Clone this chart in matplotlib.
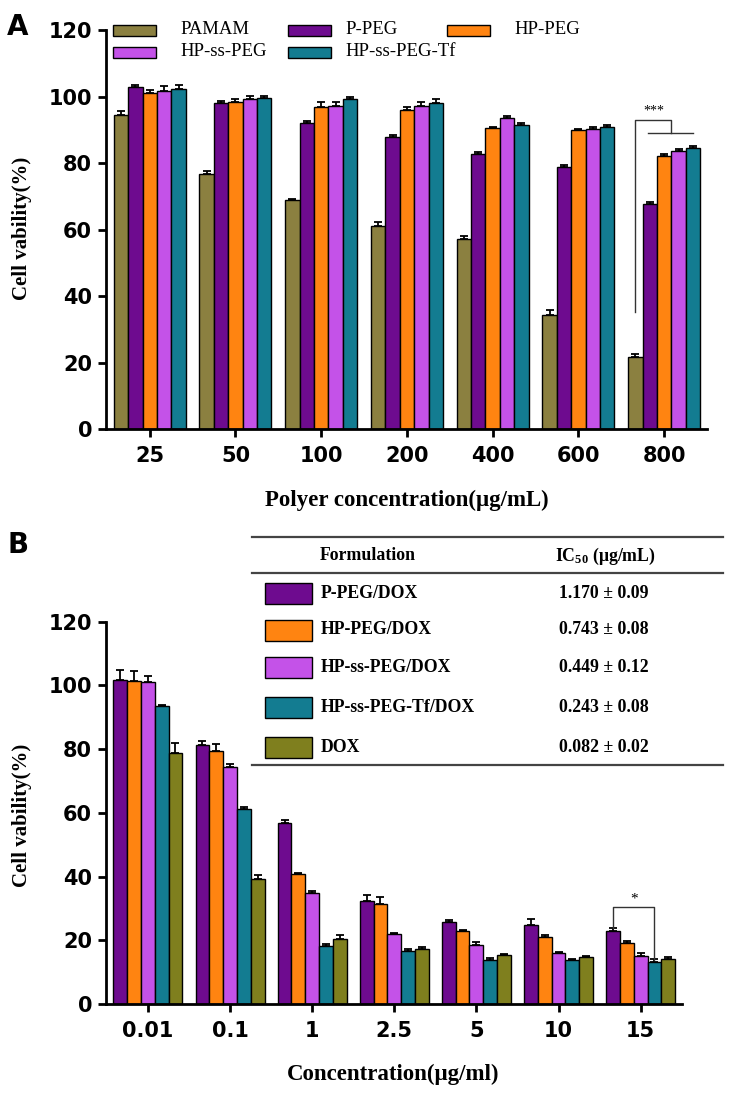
import numpy as np
import matplotlib
matplotlib.use('Agg')
from matplotlib import pyplot as plt
from matplotlib.patches import Rectangle
from matplotlib.lines import Line2D

# ---- A: 聚合物浓度 vs 细胞存活率
concA = ['25', '50', '100', '200', '400', '600', '800']
namesA = ['PAMAM', 'P-PEG', 'HP-PEG', 'HP-ss-PEG', 'HP-ss-PEG-Tf']
pamam = [94.4, 76.7, 68.9, 61.1, 57.0, 34.3, 21.7]
p_peg = [103.0, 98.1, 92.1, 87.9, 82.7, 78.9, 67.6]
hp_peg = [101.1, 98.3, 96.9, 95.9, 90.4, 89.9, 82.2]
hp_ss_peg = [101.7, 99.3, 97.1, 97.1, 93.4, 90.1, 83.7]
hp_ss_peg_tf = [102.3, 99.4, 99.2, 97.9, 91.4, 90.9, 84.4]
err_pamam = [1.2, 0.8, 0.3, 1.3, 1.0, 1.5, 0.8]
err_p_peg = [0.4, 0.5, 0.5, 0.5, 0.5, 0.6, 0.7]
err_hp_peg = [1.0, 1.0, 1.5, 0.8, 0.3, 0.4, 0.4]
err_hp_ss_peg = [1.5, 1.0, 1.3, 1.2, 0.6, 0.8, 0.6]
err_hp_ss_peg_tf = [1.3, 0.9, 0.8, 1.2, 0.7, 0.6, 0.6]

# ---- B: DOX 浓度 vs 细胞存活率
concB = ['0.01', '0.1', '1', '2.5', '5', '10', '15']
namesB = ['P-PEG/DOX', 'HP-PEG/DOX', 'HP-ss-PEG/DOX', 'HP-ss-PEG-Tf/DOX', 'DOX']
b_p_peg = [101.7, 81.2, 56.7, 32.3, 25.6, 24.8, 22.9]
b_hp_peg = [101.5, 79.5, 40.7, 31.3, 22.9, 20.9, 19.3]
b_hp_ss_peg = [101.1, 74.4, 34.8, 21.9, 18.5, 15.9, 15.2]
b_hp_ss_peg_tf = [93.4, 61.2, 18.3, 16.7, 13.8, 13.8, 13.3]
b_dox = [78.9, 39.1, 20.4, 17.2, 15.4, 14.9, 14.1]
err_b_p_peg = [3.0, 1.5, 1.2, 1.8, 0.9, 1.8, 1.0]
err_b_hp_peg = [3.0, 2.0, 0.5, 2.2, 0.3, 0.9, 0.6]
err_b_hp_ss_peg = [2.0, 1.0, 0.6, 0.4, 1.0, 0.4, 0.8]
err_b_hp_ss_peg_tf = [0.3, 0.5, 0.4, 0.6, 0.7, 0.4, 0.8]
err_b_dox = [3.0, 1.5, 1.2, 0.8, 0.3, 0.3, 0.5]
ic50_mean = ['1.170', '0.743', '0.449', '0.243', '0.082']
ic50_sd = ['0.09', '0.08', '0.12', '0.08', '0.02']

OLIVE_A = '#8B8040'
PURPLE = '#6E0B8F'
ORANGE = '#FF8411'
MAGENTA = '#C452E8'
TEAL = '#137C91'
OLIVE_B = '#7F7F1E'

SERIF = 'Liberation Serif'
SANS = 'DejaVu Sans'

W, H = 735, 1096
fig = plt.figure(figsize=(W / 100, H / 100), dpi=100)


def fx(x):
    return x / W


def fy(y):
    return 1 - y / H


BW = 0.168  # 单根柱宽


def draw_bars(ax, groups, vals, errs, colors):
    x = np.arange(len(groups))
    n = len(vals)
    for i, (v, e, c) in enumerate(zip(vals, errs, colors)):
        pos = x + (i - (n - 1) / 2) * BW
        ax.bar(pos, v, BW, color=c, edgecolor='black', linewidth=1.0, zorder=2)
        ax.errorbar(pos, v, yerr=[np.zeros(len(v)), e], fmt='none', ecolor='black',
                    elinewidth=1.3, capsize=3, capthick=1.3, zorder=3)
    ax.set_xticks(x)
    ax.set_xticklabels(groups)
    ax.set_xlim(-0.51, len(groups) - 0.5)
    ax.set_ylim(0, 120)
    ax.set_yticks(np.arange(0, 121, 20))
    for s in ['top', 'right']:
        ax.spines[s].set_visible(False)
    for s in ['left', 'bottom']:
        ax.spines[s].set_linewidth(2.0)
    ax.tick_params(width=2.0, length=6, pad=4, labelsize=15)
    ax.tick_params(axis='x', pad=6)
    for lab in ax.get_xticklabels() + ax.get_yticklabels():
        lab.set_fontfamily(SANS)
        lab.set_fontweight('bold')


def legend_patch(x0, yc, w, h, color):
    fig.add_artist(Rectangle((fx(x0), fy(yc + h / 2)), w / W, h / H, transform=fig.transFigure,
                             facecolor=color, edgecolor='black', linewidth=1.0))


# ================= A =================
axA = fig.add_axes([fx(106), fy(429), (707 - 106) / W, (429 - 30) / H])
draw_bars(axA, concA, [pamam, p_peg, hp_peg, hp_ss_peg, hp_ss_peg_tf],
          [err_pamam, err_p_peg, err_hp_peg, err_hp_ss_peg, err_hp_ss_peg_tf],
          [OLIVE_A, PURPLE, ORANGE, MAGENTA, TEAL])

# 显著性标记 800
g = 6
axA.plot([g - 2 * BW, g - 2 * BW, g + 0.5 * BW, g + 0.5 * BW], [35.3, 93, 93, 88.9],
         color='#333333', lw=1.0, zorder=4)
axA.plot([g - 1.1 * BW, g + 2 * BW], [88.9, 88.9], color='#333333', lw=1.0, zorder=4)
axA.text(g - 0.75 * BW, 93.6, '***', ha='center', va='bottom', fontsize=10, family=SERIF)

# 图例 A
legA = [(namesA[0], OLIVE_A, 113, 30, 180), (namesA[1], PURPLE, 288, 30, 345),
        (namesA[2], ORANGE, 447, 30, 514), (namesA[3], MAGENTA, 113, 52, 180),
        (namesA[4], TEAL, 288, 52, 345)]
for name, c, px, py, tx in legA:
    legend_patch(px, py, 43, 11, c)
    fig.text(fx(tx), fy(py), name, ha='left', va='center', fontsize=13.5, family=SERIF)

fig.text(fx(22), fy(228), 'Cell vability(%)', rotation=90, ha='center', va='center',
         fontsize=15, family=SERIF, weight='bold')
fig.text(fx(407), fy(500), 'Polyer concentration(μg/mL)', ha='center', va='center',
         fontsize=16.5, family=SERIF, weight='bold')
fig.text(fx(7), fy(35), 'A', ha='left', va='baseline', fontsize=20, family=SANS, weight='bold')

# ================= B =================
axB = fig.add_axes([fx(106), fy(1004), (681.7 - 106) / W, (1004 - 621.7) / H])
colorsB = [PURPLE, ORANGE, MAGENTA, TEAL, OLIVE_B]
draw_bars(axB, concB, [b_p_peg, b_hp_peg, b_hp_ss_peg, b_hp_ss_peg_tf, b_dox],
          [err_b_p_peg, err_b_hp_peg, err_b_hp_ss_peg, err_b_hp_ss_peg_tf, err_b_dox],
          colorsB)

axB.plot([g - 2 * BW, g - 2 * BW, g + BW, g + BW], [23.8, 30.6, 30.6, 13.9],
         color='#333333', lw=1.0, zorder=4)
axB.text(g - 0.5 * BW, 30.9, '*', ha='center', va='bottom', fontsize=11, family=SERIF)

# IC50 表格
plt.rcParams['mathtext.fontset'] = 'custom'
plt.rcParams['mathtext.rm'] = 'Liberation Serif:bold'
plt.rcParams['mathtext.default'] = 'rm'
for yl in [537, 573, 765]:
    fig.add_artist(Line2D([fx(252), fx(723)], [fy(yl), fy(yl)], transform=fig.transFigure,
                          color='#444444', lw=1.6))
fig.text(fx(368), fy(556), 'Formulation', ha='center', va='center', fontsize=12.8,
         family=SERIF, weight='bold')
fig.text(fx(605), fy(556), 'IC$_{50}$ (μg/mL)', ha='center', va='center', fontsize=12.8,
         family=SERIF, weight='bold')
rows_y = [593, 630, 667, 707, 747]
for name, c, m, sd, ry in zip(namesB, colorsB, ic50_mean, ic50_sd, rows_y):
    legend_patch(265, ry, 47, 21, c)
    fig.text(fx(321), fy(ry), name, ha='left', va='center', fontsize=12.8,
             family=SERIF, weight='bold')
    fig.text(fx(604), fy(ry), m + ' ± ' + sd, ha='center', va='center', fontsize=12.8,
             family=SERIF, weight='bold')

fig.text(fx(22), fy(815), 'Cell vability(%)', rotation=90, ha='center', va='center',
         fontsize=15, family=SERIF, weight='bold')
fig.text(fx(393), fy(1074), 'Concentration(μg/ml)', ha='center', va='center',
         fontsize=16.5, family=SERIF, weight='bold')
fig.text(fx(7), fy(553), 'B', ha='left', va='baseline', fontsize=20, family=SANS, weight='bold')

fig.savefig('out.png', dpi=100)
